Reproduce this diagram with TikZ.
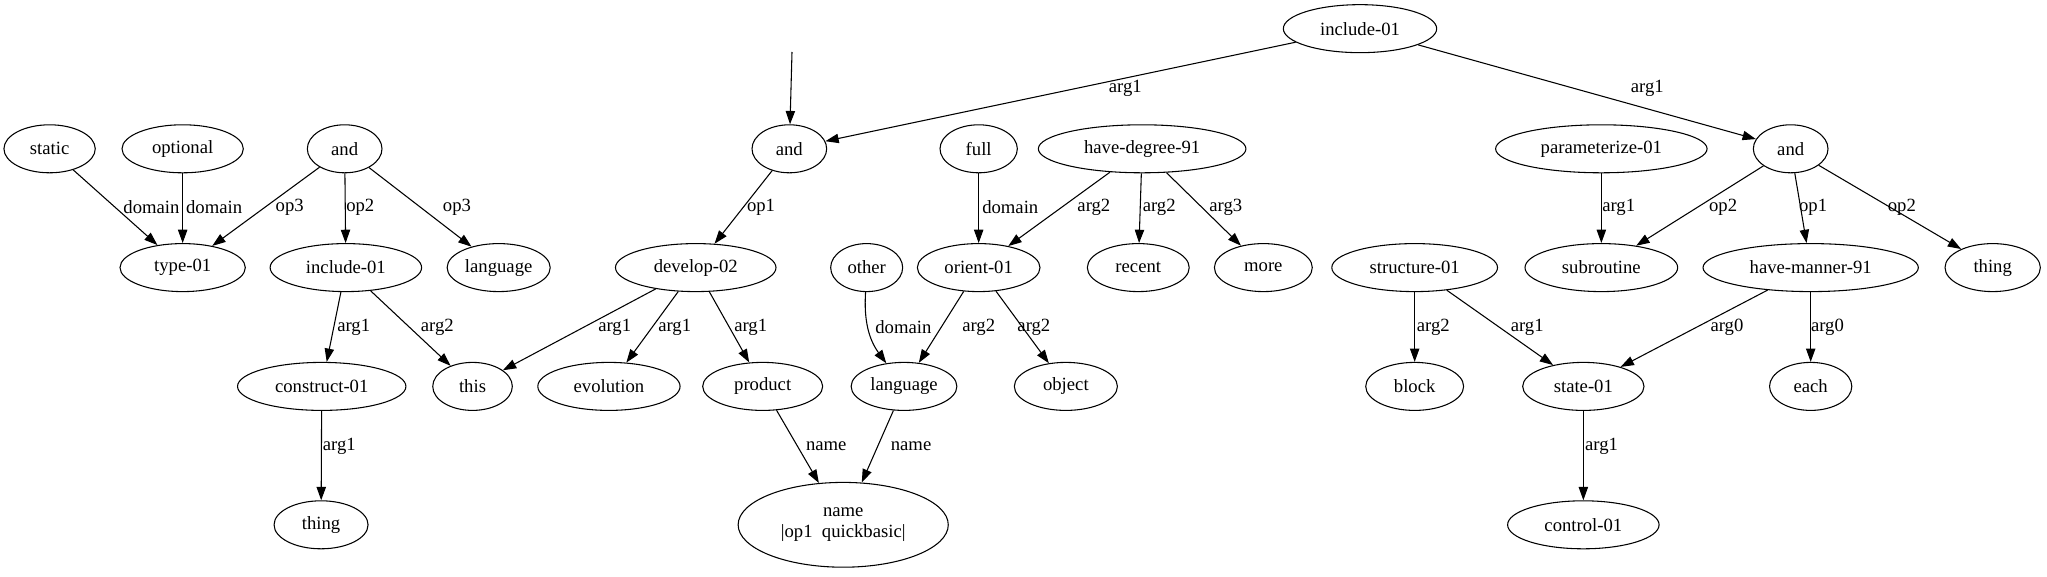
\documentclass[tikz,border=0pt]{standalone}
\usepackage{fontspec}
\setmainfont{Liberation Serif}
\usetikzlibrary{shapes.geometric, arrows.meta}

\begin{document}
\begin{tikzpicture}[x=1pt, y=-1pt,
    concept/.style={draw, ellipse, line width=0.8pt, minimum height=36pt,
        inner sep=0pt, font=\fontsize{14}{16}\selectfont},
    role/.style={inner sep=0pt, font=\fontsize{14}{16}\selectfont},
    arr/.style={-{Triangle[length=10pt, width=7pt]}, line width=0.8pt}]

\useasboundingbox (0,0) rectangle (1535.25,432.75);

% Root
\node[concept, minimum width=115pt] (inc0) at (1020,21.5) {include-01};
\coordinate (entry) at (594,39);

% Row 1
\node[concept, minimum width=68.5pt] (static) at (37.2,111.6) {static};
\node[concept, minimum width=91pt] (optional) at (137,111.6) {optional};
\node[concept, minimum width=56pt] (andL) at (258.5,111.6) {and};
\node[concept, minimum width=56pt] (andM) at (592,111.6) {and};
\node[concept, minimum width=58pt] (full) at (734,111.6) {full};
\node[concept, minimum width=155.7pt] (havedeg) at (856.6,111.6) {have-degree-91};
\node[concept, minimum width=158.6pt] (param) at (1201,111.6) {parameterize-01};
\node[concept, minimum width=56pt] (andR) at (1343,111.6) {and};

% Row 2
\node[concept, minimum width=94pt] (type) at (137,200.7) {type-01};
\node[concept, minimum width=113.6pt] (incL) at (259.4,200.7) {include-01};
\node[concept, minimum width=77.3pt] (langL) at (374,200.7) {language};
\node[concept, minimum width=120.4pt] (develop) at (521.8,200.7) {develop-02};
\node[concept, minimum width=54pt] (other) at (650,200.7) {other};
\node[concept, minimum width=92pt] (orient) at (734,200.7) {orient-01};
\node[concept, minimum width=76.4pt] (recent) at (853.7,200.7) {recent};
\node[concept, minimum width=73.4pt] (more) at (947.5,200.7) {more};
\node[concept, minimum width=124.3pt] (structure) at (1061,200.7) {structure-01};
\node[concept, minimum width=114.5pt] (subroutine) at (1201,200.7) {subroutine};
\node[concept, minimum width=161.5pt] (havemanner) at (1358,200.7) {have-manner-91};
\node[concept, minimum width=71.5pt] (thingR) at (1494.5,200.7) {thing};

% Row 3
\node[concept, minimum width=126.3pt] (construct) at (241.3,289.8) {construct-01};
\node[concept, minimum width=59.7pt] (this) at (354.4,289.8) {this};
\node[concept, minimum width=106.7pt] (evolution) at (456.7,289.8) {evolution};
\node[concept, minimum width=90pt] (product) at (572,289.8) {product};
\node[concept, minimum width=79.3pt] (langM) at (678,289.8) {language};
\node[concept, minimum width=77.3pt] (object) at (799.4,289.8) {object};
\node[concept, minimum width=73.4pt] (block) at (1061,289.8) {block};
\node[concept, minimum width=91pt] (state) at (1187.5,289.8) {state-01};
\node[concept, minimum width=61.7pt] (each) at (1358,289.8) {each};

% Row 4
\node[concept, minimum width=70.5pt] (thingL) at (240.8,393.6) {thing};
\node[concept, minimum width=157.6pt, minimum height=63.6pt, align=center]
    (name) at (632.4,393.6) {name\\\textbar op1~~quickbasic\textbar};
\node[concept, minimum width=113.6pt] (control) at (1187.5,393.6) {control-01};

% Edges
\draw[arr] (entry) -- (andM);
\draw[arr] (inc0) -- (andM) node[role] at (844,66.6) {arg1};
\draw[arr] (inc0) -- (andR) node[role] at (1235.5,66.6) {arg1};

\draw[arr] (static) -- (type) node[role] at (113.6,155.7) {domain};
\draw[arr] (optional) -- (type) node[role] at (160.6,155.7) {domain};
\draw[arr] (andL) -- (type) node[role] at (217.3,155.7) {op3};
\draw[arr] (andL) -- (incL) node[role] at (270.2,155.7) {op2};
\draw[arr] (andL) -- (langL) node[role] at (342.7,155.7) {op3};
\draw[arr] (andM) -- (develop) node[role] at (570.8,155.7) {op1};
\draw[arr] (full) -- (orient) node[role] at (757.7,155.7) {domain};
\draw[arr] (havedeg) -- (orient) node[role] at (820.4,155.7) {arg2};
\draw[arr] (havedeg) -- (recent) node[role] at (869.4,155.7) {arg2};
\draw[arr] (havedeg) -- (more) node[role] at (919.3,155.7) {arg3};
\draw[arr] (param) -- (subroutine) node[role] at (1214,155.7) {arg1};
\draw[arr] (andR) -- (subroutine) node[role] at (1292.3,155.7) {op2};
\draw[arr] (andR) -- (havemanner) node[role] at (1359.8,155.7) {op1};
\draw[arr] (andR) -- (thingR) node[role] at (1426.4,155.7) {op2};

\draw[arr] (incL) -- (construct) node[role] at (265.3,245.7) {arg1};
\draw[arr] (incL) -- (this) node[role] at (328,245.7) {arg2};
\draw[arr] (develop) -- (this) node[role] at (461,245.7) {arg1};
\draw[arr] (develop) -- (evolution) node[role] at (506,245.7) {arg1};
\draw[arr] (develop) -- (product) node[role] at (563,245.7) {arg1};
\draw[arr] (other) to[bend right=20] (langM) node[role] at (677.5,245.7) {domain};
\draw[arr] (orient) -- (langM) node[role] at (734,245.7) {arg2};
\draw[arr] (orient) -- (object) node[role] at (775.4,245.7) {arg2};
\draw[arr] (structure) -- (block) node[role] at (1075,245.7) {arg2};
\draw[arr] (structure) -- (state) node[role] at (1145.4,245.7) {arg1};
\draw[arr] (havemanner) -- (state) node[role] at (1295.2,245.7) {arg0};
\draw[arr] (havemanner) -- (each) node[role] at (1370.6,245.7) {arg0};

\draw[arr] (construct) -- (thingL) node[role] at (254.5,334.8) {arg1};
\draw[arr] (product) -- (name) node[role] at (619.7,334.8) {name};
\draw[arr] (langM) -- (name) node[role] at (683.3,334.8) {name};
\draw[arr] (state) -- (control) node[role] at (1201.2,334.8) {arg1};

\end{tikzpicture}
\end{document}
